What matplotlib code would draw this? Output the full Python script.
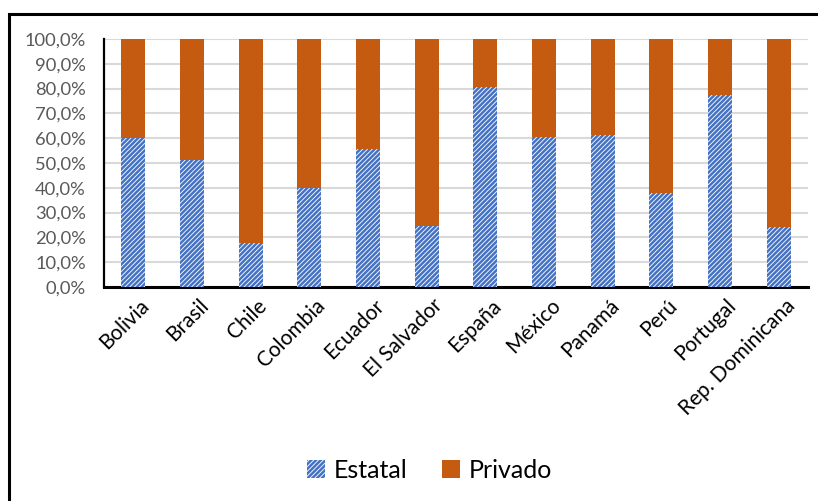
import matplotlib
matplotlib.use("Agg")
import matplotlib.pyplot as plt
import matplotlib.transforms as mtransforms
from matplotlib.patches import Rectangle
from matplotlib.ticker import FuncFormatter
import numpy as np

plt.rcParams['font.family'] = ['Lato', 'DejaVu Sans']
plt.rcParams['hatch.linewidth'] = 1.8

paises = ["Bolivia", "Brasil", "Chile", "Colombia", "Ecuador", "El Salvador",
          "España", "México", "Panamá", "Perú", "Portugal", "Rep. Dominicana"]
estatal = [60.1, 51.2, 17.7, 39.9, 55.6, 24.6, 80.6, 60.5, 61.3, 37.9, 77.4, 24.2]
privado = [100 - v for v in estatal]

azul = "#4472C4"
naranja = "#C55A11"

fig = plt.figure(figsize=(8.18, 5.01), dpi=100)
ax = fig.add_axes([0.1271, 0.4271, 0.8607, 0.4951])

x = np.arange(len(paises))
ancho = 0.41
ax.bar(x, estatal, ancho, color="white", edgecolor=azul, hatch="///////",
       linewidth=0, label="Estatal", zorder=3)
ax.bar(x, privado, ancho, bottom=estatal, color=naranja, linewidth=0,
       label="Privado", zorder=3)

ax.set_xlim(-0.5, len(paises) - 0.5)
ax.set_ylim(0, 100)
ax.set_yticks(np.arange(0, 101, 10))
ax.yaxis.set_major_formatter(FuncFormatter(lambda v, p: f"{v:.1f}%".replace(".", ",")))
ax.grid(axis="y", color="#D9D9D9", linewidth=1.5, zorder=0)
ax.set_axisbelow(True)

for s in ["top", "right"]:
    ax.spines[s].set_visible(False)
ax.spines["left"].set_linewidth(1.6)
ax.spines["bottom"].set_linewidth(2.2)
ax.tick_params(axis="both", length=0)
ax.tick_params(axis="y", labelsize=13.2, labelcolor="#595959", pad=13)
ax.set_xticks(x)
ax.set_xticklabels(paises, rotation=45, ha="right", rotation_mode="anchor",
                   fontsize=15, color="black")
ax.tick_params(axis="x", pad=6)
desplaza = mtransforms.ScaledTranslation(6 / 100, 0, fig.dpi_scale_trans)
for lbl in ax.get_xticklabels():
    lbl.set_transform(lbl.get_transform() + desplaza)

leg = fig.legend(loc="center", bbox_to_anchor=(0.525, 0.061), ncol=2, frameon=False,
                 fontsize=18, handlelength=0.7, handleheight=0.7,
                 columnspacing=1.4, handletextpad=0.35)

# marco exterior
fig.patches.append(Rectangle((9 / 818, -0.1), 1.2, (501 - 14) / 501 + 0.1,
                             transform=fig.transFigure, fill=False,
                             edgecolor="black", linewidth=2.2))

fig.savefig("out.png", dpi=100)
